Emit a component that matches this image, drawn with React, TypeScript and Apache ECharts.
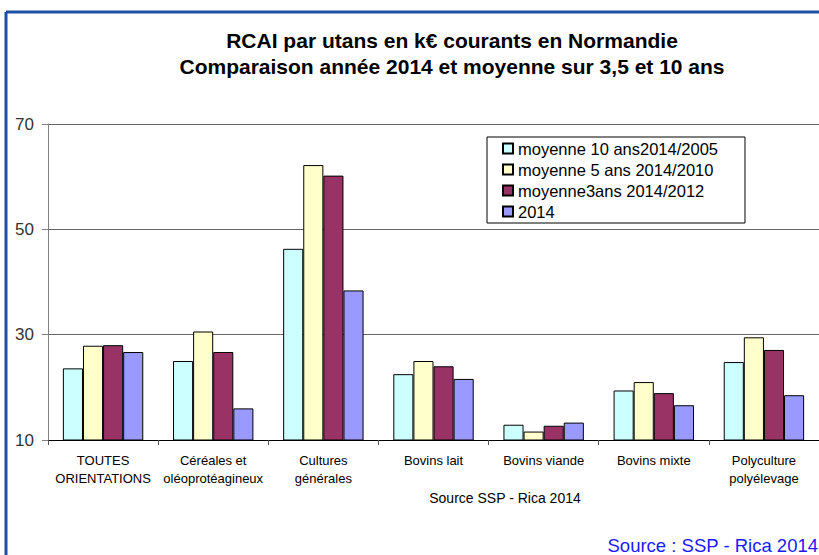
import React, { useEffect, useRef } from "react";
import * as echarts from "echarts";

const categories = [
  "TOUTES\nORIENTATIONS",
  "Céréales et\noléoprotéagineux",
  "Cultures\ngénérales",
  "Bovins lait",
  "Bovins viande",
  "Bovins mixte",
  "Polyculture\npolyélevage",
];
const seriesNames = [
  "moyenne 10 ans2014/2005",
  "moyenne 5 ans 2014/2010",
  "moyenne3ans 2014/2012",
  "2014",
];
const moy10 = [23.6, 25.0, 46.3, 22.5, 12.9, 19.4, 24.8];
const moy5 = [27.9, 30.6, 62.2, 25.0, 11.6, 21.0, 29.5];
const moy3 = [28.0, 26.7, 60.2, 24.0, 12.7, 18.9, 27.1];
const y2014 = [26.7, 16.0, 38.4, 21.6, 13.3, 16.6, 18.5];
const colors = ["#CCFFFF", "#FFFFCC", "#993366", "#9999FF"];
const titleLines = [
  "RCAI par utans en k€ courants en Normandie",
  "Comparaison année 2014 et moyenne sur 3,5 et 10 ans",
];
const axisName = "Source SSP - Rica 2014";
const sourceText = "Source : SSP - Rica 2014";

const FONT = "'Liberation Sans', Arial, sans-serif";

export default function App() {
  const ref = useRef<HTMLDivElement>(null);
  useEffect(() => {
    if (!ref.current) return;
    const chart = echarts.init(ref.current, undefined, { renderer: "svg" });
    const data = [moy10, moy5, moy3, y2014];
    chart.setOption({
      animation: false,
      backgroundColor: "#fff",
      textStyle: { fontFamily: FONT },
      grid: { left: 48, right: 0, top: 124, bottom: 115, containLabel: false },
      legend: {
        orient: "vertical",
        left: 487,
        top: 137,
        padding: [3, 27, 3, 15],
        backgroundColor: "#fff",
        borderColor: "#000",
        borderWidth: 1,
        borderRadius: 0,
        itemWidth: 10,
        itemHeight: 10,
        itemGap: 4,
        icon: "rect",
        textStyle: { fontSize: 16.5, color: "#000", fontFamily: FONT, lineHeight: 16, padding: [0, 0, 0, 0] },
        data: seriesNames,
      },
      xAxis: {
        type: "category",
        data: categories,
        axisLine: { lineStyle: { color: "#000", width: 1 } },
        axisTick: { show: true, length: 5, lineStyle: { color: "#555" } },
        axisLabel: { interval: 0, fontSize: 13, color: "#000", lineHeight: 18, margin: 11, fontFamily: FONT },
      },
      yAxis: {
        type: "value",
        min: 10,
        max: 70,
        interval: 20,
        axisLine: { show: true, lineStyle: { color: "#808080" } },
        axisTick: { show: true, length: 6, lineStyle: { color: "#808080" } },
        axisLabel: { fontSize: 17, color: "#333", margin: 14, fontFamily: FONT },
        splitLine: { lineStyle: { color: "#666", width: 1 } },
      },
      series: seriesNames.map((name, i) => ({
        name,
        type: "bar",
        data: data[i],
        barGap: "0%",
        barCategoryGap: "27%",
        itemStyle: { color: colors[i], borderColor: "#000", borderWidth: 1 },
      })),
      graphic: [
        { type: "line", shape: { x1: 6, y1: 12, x2: 6, y2: 555 }, style: { stroke: "#1f50a8", lineWidth: 3 } },
        { type: "line", shape: { x1: 6, y1: 12, x2: 819, y2: 12 }, style: { stroke: "#1f50a8", lineWidth: 3 } },
        {
          type: "text",
          x: 452,
          y: 40,
          style: { text: titleLines[0], fontSize: 21, fontWeight: "bold", fill: "#000", align: "center", verticalAlign: "middle", fontFamily: FONT },
        },
        {
          type: "text",
          x: 452,
          y: 66,
          style: { text: titleLines[1], fontSize: 21, fontWeight: "bold", fill: "#000", align: "center", verticalAlign: "middle", fontFamily: FONT },
        },
        {
          type: "text",
          x: 505,
          y: 498,
          style: { text: axisName, fontSize: 14, fill: "#000", align: "center", verticalAlign: "middle", fontFamily: FONT },
        },
        {
          type: "text",
          x: 818,
          y: 545,
          style: { text: sourceText, fontSize: 18.5, fill: "#1a1aff", align: "right", verticalAlign: "middle", fontFamily: FONT },
        },
      ],
    });
    return () => chart.dispose();
  }, []);
  return (
    <div
      ref={ref}
      style={{ position: "fixed", left: 0, top: 0, width: 819, height: 555 }}
    />
  );
}
